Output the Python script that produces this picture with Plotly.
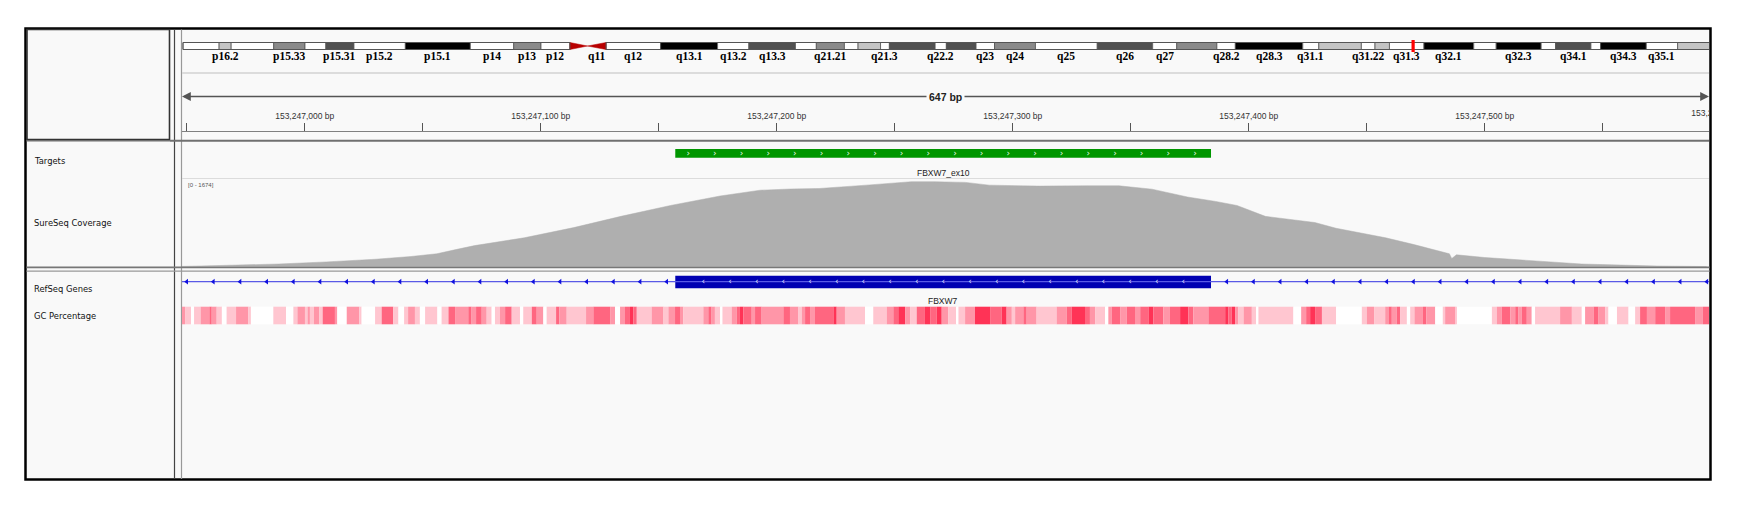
import numpy as np
import plotly.graph_objects as go

W, H = 1743, 509

# ---------------- data ----------------
VIEW_START = 153246948          # left edge of the view (chr4)
VIEW_END = 153247595            # right edge of the view
SPAN_LABEL = "647 bp"
COV_MAX = 1674
COV_RANGE_LABEL = "[0 - 1674]"
CLIPPED_TICK = 153247600        # tick just past the right edge (label shows clipped)

# SureSeq coverage: offset from VIEW_START (bp) and depth
cov_offset = [0, 9, 25, 41, 61, 82, 97, 108, 116, 124, 145, 166, 186, 207, 228, 245,
              258, 270, 290, 309, 319, 332, 342, 363, 384, 397, 411, 426, 438, 447,
              459, 472, 480, 489, 510, 522, 537, 538, 540, 552, 573, 593, 614, 625, 646]
cov_value = [5, 13, 30, 52, 92, 144, 197, 250, 330, 407, 558, 755, 972, 1182, 1365, 1477,
             1500, 1510, 1575, 1641, 1641, 1628, 1575, 1556, 1562, 1562, 1497, 1346, 1260, 1182,
             972, 906, 853, 742, 558, 427, 249, 158, 230, 177, 112, 52, 26, 13, 3]

target_name = "FBXW7_ex10"
target_start = 153247157
target_end = 153247384

gene_name = "FBXW7"
exon_start = 153247157
exon_end = 153247384

# GC percentage track: segment start offsets (bp from VIEW_START) and shade level 0..4
gc_offset = [0, 1.3, 3.8, 5.1, 7.9, 11.6, 12.6, 14.7, 16.9, 18.9, 22.9, 28.1, 29.2, 38.7, 44.1,
             47.2, 48.9, 52.1, 53.2, 54.2, 55.9, 58.2, 59.6, 64.8, 65.8, 69.8, 75.1, 76.1, 81.8,
             84.6, 89.5, 91.7, 94.1, 95.8, 98.7, 100.8, 103, 108.2, 110, 112.9, 115.7, 121.3,
             122.7, 124.6, 127, 129.1, 131.2, 132.6, 134.7, 136.9, 139.7, 143.2, 144.6, 148.2,
             150.3, 153.1, 154.5, 158.5, 159.9, 163, 171.2, 174.3, 181.4, 183.5, 185.6, 187.7,
             189.8, 191.2, 192.7, 199, 204, 206.1, 208.9, 211, 212.4,
             220.9, 223, 224.4, 225.8, 228, 229, 232.9, 235, 236.4, 237.9, 241.4, 242.8, 245.6,
             254.8, 257.6, 261.2, 262.6, 264, 266.1, 268.2, 276, 277.4, 280.9, 289.4, 292.9,
             298.6, 301.4, 303.5, 306.4, 308.5, 311.3, 314.8, 317, 319.8, 321.9, 324.7, 328.2,
             329, 331.8, 336, 342.4, 347.3, 349.4, 351.6, 353, 356.5, 357.9, 362.1, 370.6,
             374.9, 377, 382.6, 384.7, 386.9, 391.1, 392.5, 393.9, 397.5, 400.3, 403.8, 406,
             409.5, 411.6, 415.8, 418.6, 422.9, 426.4, 428.5,
             434.9, 442, 443.4, 444.8, 446.2, 447.6, 449.8, 453.3, 455.1, 456.1, 470.9, 474.2,
             476.3, 478, 480.1, 483, 489, 499.9, 502, 505.1, 509.8, 511.2, 512.6, 514.7, 516.1,
             519, 520.4, 522.2, 525.8, 527.2, 531, 534.2, 535.2, 539.5, 540.2, 555, 557.1,
             559.2, 562.8, 564.9, 566.3, 567.7, 569.8, 571.9, 573.3, 583.9, 588.9, 593.1, 594.5,
             598.1, 600.2, 603, 604.4, 608, 612.9, 615.7, 617.8, 620.7, 624.2, 628.4, 630.5,
             641.1, 644.4]
gc_level = [2, 1, 0, 1, 2, 3, 2, 1, 0, 1, 2, 1, 0, 1, 0,
            1, 2, 1, 2, 1, 2, 1, 3, 2, 0, 2, 1, 0, 1,
            3, 1, 0, 1, 2, 1, 0, 1, 0, 1, 3, 2, 3,
            2, 3, 2, 1, 0, 1, 2, 3, 1, 0, 1, 3,
            2, 0, 1, 3, 2, 1, 2, 3, 2, 0, 2, 3,
            4, 3, 1, 2, 1, 2, 3, 2, 1,
            2, 3, 2, 1, 0, 1, 2, 3, 4, 3, 2, 3, 2,
            3, 2, 1, 2, 3, 2, 3, 4, 2, 1, 0, 1,
            2, 3, 4, 2, 1, 3, 4, 3, 4, 2, 1, 0,
            1, 2, 4, 3, 4, 2, 1, 2, 3, 2, 1, 2,
            3, 4, 3, 2, 1, 0, 2, 3, 2, 3, 2, 3,
            4, 3, 2, 3, 4, 3, 2,
            3, 4, 3, 4, 2, 1, 2, 1, 0, 1, 0, 2,
            3, 4, 3, 1, 0, 1, 2, 1, 2, 3, 2, 3, 1,
            0, 1, 2, 3, 2, 0, 1, 2, 1, 0, 1,
            2, 3, 2, 3, 2, 3, 2, 0, 1, 2, 1, 0, 2,
            3, 2, 1, 0, 1, 0, 1, 3, 2, 3, 2, 3,
            2, 3]
gc_colors = ["#FFFFFF", "#FFC6D0", "#FF96A8", "#FF6680", "#FF3356"]

# chr4 ideogram (Mb)
band_names = ["p16.3", "p16.2", "p16.1", "p15.33", "p15.32", "p15.31", "p15.2", "p15.1", "p14",
              "p13", "p12", "p11", "q11", "q12", "q13.1", "q13.2", "q13.3", "q21.1", "q21.21",
              "q21.22", "q21.23", "q21.3", "q22.1", "q22.2", "q22.3", "q23", "q24", "q25", "q26",
              "q27", "q28.1", "q28.2", "q28.3", "q31.1", "q31.21", "q31.22", "q31.23", "q31.3",
              "q32.1", "q32.2", "q32.3", "q33", "q34.1", "q34.2", "q34.3", "q35.1", "q35.2"]
band_start = [0, 4.5, 6.0, 11.3, 15.2, 17.8, 21.3, 27.7, 35.8, 41.2, 44.6, 48.2, 50.4, 52.7,
              59.5, 66.6, 70.5, 76.3, 78.9, 82.4, 84.1, 86.9, 88.0, 93.7, 95.1, 98.8, 101.1,
              106.2, 113.9, 120.8, 123.8, 128.8, 131.1, 139.5, 141.5, 146.8, 148.5, 150.3,
              154.6, 160.8, 163.6, 169.2, 171.0, 175.4, 176.6, 182.3, 186.2]
band_end = band_start[1:] + [191.154276]
band_stain = ["gneg", "gpos25", "gneg", "gpos50", "gneg", "gpos75", "gneg", "gpos100", "gneg",
              "gpos50", "gneg", "acen", "acen", "gneg", "gpos100", "gneg", "gpos75", "gneg",
              "gpos50", "gneg", "gpos25", "gneg", "gpos75", "gneg", "gpos75", "gneg", "gpos50",
              "gneg", "gpos75", "gneg", "gpos50", "gneg", "gpos100", "gneg", "gpos25", "gneg",
              "gpos25", "gneg", "gpos100", "gneg", "gpos100", "gneg", "gpos75", "gneg",
              "gpos100", "gneg", "gpos25"]
band_labels_shown = ["p16.2", "p15.33", "p15.31", "p15.2", "p15.1", "p14", "p13", "p12", "q11",
                     "q12", "q13.1", "q13.2", "q13.3", "q21.21", "q21.3", "q22.2", "q23", "q24",
                     "q25", "q26", "q27", "q28.2", "q28.3", "q31.1", "q31.22", "q31.3", "q32.1",
                     "q32.3", "q34.1", "q34.3", "q35.1"]
current_locus_mb = 153.247

track_names = ["Targets", "SureSeq Coverage", "RefSeq Genes", "GC Percentage"]

# ---------------- layout constants (pixels) ----------------
stain_color = {"gneg": "#FFFFFF", "gpos25": "#C4C4C4", "gpos50": "#8A8A8A",
               "gpos75": "#505050", "gpos100": "#000000"}
DATA_L, DATA_R = 182, 1709
IDEO_L_PX, IDEO_PX_PER_MB = 183, 8.027
FRAME_L, FRAME_T, FRAME_R, FRAME_B = 25.5, 28.5, 1710.5, 479.5
BG = "#F9F9F9"


def fx(p):
    return p / W


def fy(p):
    return 1 - p / H


fig = go.Figure()

# ideogram bands
ideo_x, ideo_w, ideo_c = [], [], []
for s, e, st in zip(band_start, band_end, band_stain):
    if st == "acen":
        continue
    ideo_x.append((s + e) / 2)
    ideo_w.append(e - s)
    ideo_c.append(stain_color[st])
fig.add_trace(go.Bar(x=ideo_x, width=ideo_w, y=[7] * len(ideo_x), base=[42.5] * len(ideo_x),
                     xaxis="x2", yaxis="y3", marker=dict(color=ideo_c, line=dict(width=0.8, color="#555")),
                     hoverinfo="skip", showlegend=False))
# centromere
for name, s, e in zip(band_names, band_start, band_end):
    if name == "p11":
        fig.add_trace(go.Scatter(x=[s, s, e, s], y=[42.5, 49.5, 46, 42.5], xaxis="x2", yaxis="y3",
                                 fill="toself", fillcolor="#B80000", line=dict(width=0.5, color="#B80000"),
                                 mode="lines", hoverinfo="skip", showlegend=False))
    if name == "q11":
        fig.add_trace(go.Scatter(x=[e, e, s, e], y=[42.5, 49.5, 46, 42.5], xaxis="x2", yaxis="y3",
                                 fill="toself", fillcolor="#B80000", line=dict(width=0.5, color="#B80000"),
                                 mode="lines", hoverinfo="skip", showlegend=False))

# clipped ruler label at the right edge
fig.add_trace(go.Scatter(x=[CLIPPED_TICK], y=[113.5], xaxis="x", yaxis="y3", mode="text",
                         text=[f"{CLIPPED_TICK:,} bp"], cliponaxis=True,
                         textfont=dict(family="Liberation Sans", size=8.5, color="#333"),
                         hoverinfo="skip", showlegend=False))

# coverage
fig.add_trace(go.Scatter(x=[VIEW_START + o for o in cov_offset], y=cov_value, xaxis="x", yaxis="y",
                         mode="lines", fill="tozeroy", fillcolor="rgb(175,175,175)",
                         line=dict(color="rgb(175,175,175)", width=0.5),
                         hoverinfo="skip", showlegend=False))

# targets
fig.add_trace(go.Bar(x=[(target_start + target_end) / 2], width=[target_end - target_start],
                     y=[8.7], base=[149], xaxis="x", yaxis="y3",
                     marker=dict(color="rgb(0,150,0)", line=dict(width=0)),
                     hoverinfo="skip", showlegend=False))
chev_t = np.arange(target_start + 5.5, target_end - 2, 11.3)
fig.add_trace(go.Scatter(x=chev_t, y=[153.4] * len(chev_t), xaxis="x", yaxis="y3", mode="text",
                         text=["›"] * len(chev_t),
                         textfont=dict(family="DejaVu Sans", size=9, color="rgba(255,255,255,0.95)"),
                         hoverinfo="skip", showlegend=False))

# gene line & arrows
fig.add_trace(go.Scatter(x=[VIEW_START, VIEW_END], y=[281.7, 281.7], xaxis="x", yaxis="y3",
                         mode="lines", line=dict(color="#5a5ae6", width=1.2),
                         hoverinfo="skip", showlegend=False))
arr = np.arange(VIEW_START + 2.0, VIEW_END, 11.3)
arr = [a for a in arr if a < exon_start - 2 or a > exon_end + 2]
fig.add_trace(go.Scatter(x=arr, y=[281.7] * len(arr), xaxis="x", yaxis="y3", mode="markers",
                         marker=dict(symbol="triangle-left", size=5, color="#1010E0", line=dict(width=0)),
                         hoverinfo="skip", showlegend=False))
fig.add_trace(go.Bar(x=[(exon_start + exon_end) / 2], width=[exon_end - exon_start],
                     y=[12.4], base=[275.8], xaxis="x", yaxis="y3",
                     marker=dict(color="rgb(0,0,178)", line=dict(width=0)),
                     hoverinfo="skip", showlegend=False))
chev_g = np.arange(exon_start + 11.9, exon_end - 2, 11.3)
fig.add_trace(go.Scatter(x=chev_g, y=[281.6] * len(chev_g), xaxis="x", yaxis="y3", mode="text",
                         text=["‹"] * len(chev_g),
                         textfont=dict(family="DejaVu Sans", size=9, color="rgba(235,235,255,0.95)"),
                         hoverinfo="skip", showlegend=False))

# GC percentage
gc_end = gc_offset[1:] + [VIEW_END - VIEW_START]
fig.add_trace(go.Bar(x=[VIEW_START + (s + e) / 2 for s, e in zip(gc_offset, gc_end)],
                     width=[e - s for s, e in zip(gc_offset, gc_end)],
                     y=[17.6] * len(gc_offset), base=[306.7] * len(gc_offset), xaxis="x", yaxis="y3",
                     marker=dict(color=[gc_colors[l] for l in gc_level], line=dict(width=0)),
                     hoverinfo="skip", showlegend=False))

# ---------------- shapes ----------------
shapes = []
shapes.append(dict(type="rect", xref="paper", yref="paper", x0=fx(FRAME_L), x1=fx(FRAME_R),
                   y0=fy(FRAME_B), y1=fy(FRAME_T), fillcolor=BG, line=dict(color="#000", width=2.5),
                   layer="below"))
shapes.append(dict(type="rect", xref="paper", yref="paper", x0=fx(27), x1=fx(169.5), y0=fy(139.5),
                   y1=fy(29.5), line=dict(color="#333", width=1.6), layer="below"))
for xx, col, w in [(174.5, "#444", 1.2), (181.5, "#999", 1.2)]:
    shapes.append(dict(type="line", xref="paper", yref="paper", x0=fx(xx), x1=fx(xx), y0=fy(479),
                       y1=fy(29.5), line=dict(color=col, width=w), layer="below"))
shapes.append(dict(type="line", xref="paper", yref="paper", x0=fx(170), x1=fx(1709), y0=fy(140.8),
                   y1=fy(140.8), line=dict(color="#707070", width=2), layer="below"))
shapes.append(dict(type="line", xref="paper", yref="paper", x0=fx(26.5), x1=fx(170), y0=fy(140.8),
                   y1=fy(140.8), line=dict(color="#707070", width=1.5), layer="below"))
shapes.append(dict(type="line", xref="paper", yref="paper", x0=fx(DATA_L), x1=fx(DATA_R), y0=fy(73),
                   y1=fy(73), line=dict(color="#DCDCDC", width=2), layer="below"))
shapes.append(dict(type="line", xref="paper", yref="paper", x0=fx(DATA_L), x1=fx(DATA_R), y0=fy(178.5),
                   y1=fy(178.5), line=dict(color="#DCDCDC", width=1.2), layer="below"))
shapes.append(dict(type="line", xref="paper", yref="paper", x0=fx(26.5), x1=fx(1709.5), y0=fy(267.4),
                   y1=fy(267.4), line=dict(color="#777", width=1.8), layer="above"))
shapes.append(dict(type="line", xref="paper", yref="paper", x0=fx(26.5), x1=fx(1709.5), y0=fy(271.2),
                   y1=fy(271.2), line=dict(color="#999", width=1.3), layer="above"))
p_end = band_start[band_names.index("p11")]
q_start = band_end[band_names.index("q11")]
shapes.append(dict(type="rect", xref="x2", yref="y3", x0=0, x1=p_end, y0=42.5, y1=49.5,
                   line=dict(color="#555", width=1)))
shapes.append(dict(type="rect", xref="x2", yref="y3", x0=q_start, x1=band_end[-1], y0=42.5, y1=49.5,
                   line=dict(color="#555", width=1)))
shapes.append(dict(type="rect", xref="x2", yref="y3", x0=current_locus_mb - 0.2,
                   x1=current_locus_mb + 0.2, y0=40, y1=52, fillcolor="#FF0000", line=dict(width=0)))

# ---------------- annotations ----------------
ann = []
for name, s, e in zip(band_names, band_start, band_end):
    if name in band_labels_shown:
        ann.append(dict(x=(s + e) / 2, y=56, xref="x2", yref="y3", text=name, showarrow=False,
                        font=dict(family="Liberation Serif", size=11.5, color="#000", weight="bold"),
                        xanchor="center", yanchor="middle"))
mid = (VIEW_START + VIEW_END) / 2
for end in (VIEW_START, VIEW_END):
    ann.append(dict(x=end, y=96.5, xref="x", yref="y3", ax=mid, ay=96.5, axref="x", ayref="y3",
                    showarrow=True, arrowhead=2, arrowsize=1.1, arrowwidth=1.6, arrowcolor="#555",
                    text=""))
ann.append(dict(x=mid, y=97, xref="x", yref="y3", text=SPAN_LABEL, showarrow=False,
                bgcolor=BG, borderpad=2,
                font=dict(family="Liberation Sans", size=10.5, color="#222", weight="bold")))
ann.append(dict(x=(target_start + target_end) / 2, y=172.7, xref="x", yref="y3", text=target_name,
                showarrow=False, font=dict(family="Liberation Sans", size=8.5, color="#222")))
ann.append(dict(x=(exon_start + exon_end) / 2, y=300.7, xref="x", yref="y3", text=gene_name,
                showarrow=False, font=dict(family="Liberation Sans", size=8.5, color="#222")))
ann.append(dict(x=fx(185.5), y=fy(184.5), xref="paper", yref="paper", text=COV_RANGE_LABEL,
                showarrow=False, xanchor="left", yanchor="middle",
                font=dict(family="Liberation Sans", size=6, color="#555")))
for name, yy in zip(track_names, [160.5, 222.5, 289, 316]):
    ann.append(dict(x=fx(32), y=fy(yy), xref="paper", yref="paper", text=name, showarrow=False,
                    xanchor="left", yanchor="middle",
                    font=dict(family="DejaVu Sans", size=8.4, color="#111")))

fig.update_layout(
    width=W, height=H, margin=dict(l=0, r=0, t=0, b=0), paper_bgcolor="white",
    plot_bgcolor="rgba(0,0,0,0)", barmode="overlay", showlegend=False,
    shapes=shapes, annotations=ann,
    xaxis=dict(domain=[fx(DATA_L), fx(DATA_R)], range=[VIEW_START, VIEW_END], anchor="free",
               position=fy(131), side="top", showline=True, linecolor="#808080", linewidth=1.2,
               ticks="outside", ticklen=8, tickwidth=1, tickcolor="#555", dtick=100, tick0=0,
               tickformat=",", ticksuffix=" bp", ticklabelstandoff=1,
               tickfont=dict(family="Liberation Sans", size=8.5, color="#333"),
               minor=dict(dtick=50, tick0=0, ticks="outside", ticklen=8, tickcolor="#555"),
               showgrid=False, zeroline=False, fixedrange=True),
    xaxis2=dict(domain=[fx(DATA_L), fx(DATA_R)],
                range=[(DATA_L - IDEO_L_PX) / IDEO_PX_PER_MB, (DATA_R - IDEO_L_PX) / IDEO_PX_PER_MB],
                anchor="y3", visible=False, showgrid=False, zeroline=False),
    yaxis=dict(domain=[fy(266.7), fy(180)], range=[0, COV_MAX], anchor="x", visible=False,
               showgrid=False, zeroline=False),
    yaxis3=dict(domain=[0, 1], range=[H, 0], anchor="x", visible=False, showgrid=False,
                zeroline=False),
)

fig.write_html("out.html", config={"displayModeBar": False},
               post_script="document.body.style.margin='0';document.body.style.overflow='hidden';")
